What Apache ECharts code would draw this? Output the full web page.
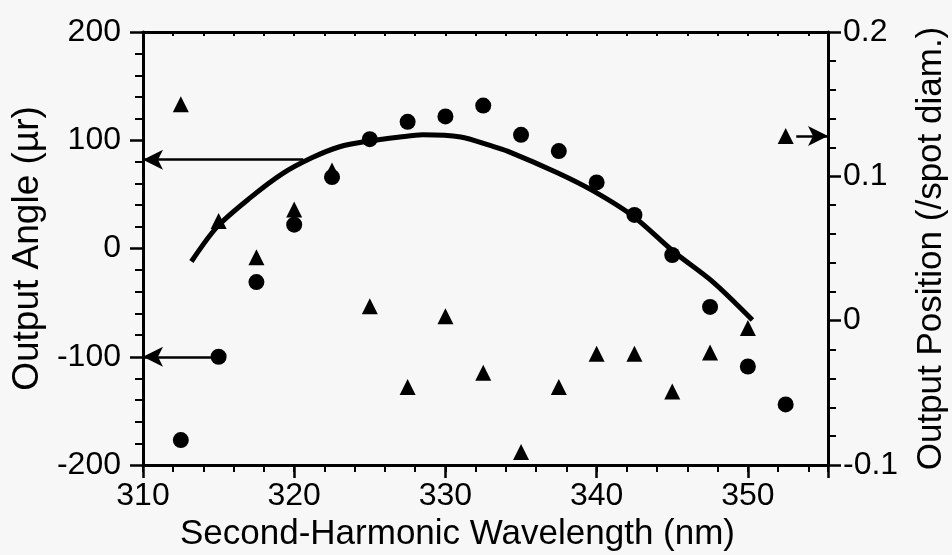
<!DOCTYPE html>
<html>
<head>
<meta charset="utf-8">
<script src="https://cdn.jsdelivr.net/npm/echarts@6/dist/echarts.min.js"></script>
<style>
  html, body { margin: 0; padding: 0; background: #f7f7f7; }
  #chart { width: 952px; height: 555px; }
</style>
</head>
<body>
<div id="chart"></div>
<script>
// wavelength (nm) of each measurement
const wavelength = [312.5, 315, 317.5, 320, 322.5, 325, 327.5, 330, 332.5, 335, 337.5, 340, 342.5, 345, 347.5, 350, 352.5];
// output angle (µr), circles, left axis
const angle = [-177, -100, -31, 22, 66, 101, 117, 122, 132, 105, 90, 61, 31, -6, -54, -109, -144];
// output position (/spot diam.), triangles, right axis
const position = [0.150, 0.069, 0.044, 0.077, 0.104, 0.010, -0.046, 0.003, -0.036, -0.091, -0.046, -0.023, -0.023, -0.049, -0.022, -0.005, 0.128];
// fitted curve for the angle
const fitX = [313.2, 314.9, 317.1, 319.2, 321.2, 323.0, 324.8, 327.0, 328.5, 331.0, 333.0, 334.1, 337.4, 339.8, 342.4, 345.1, 347.7, 350.3];
const fitY = [-12, 20, 47, 69, 84, 94, 99, 103, 105, 103, 95, 90, 70, 53, 30, -3, -31, -66];
// arrows telling which axis goes with which symbol
const angleArrows = [[[320.6, 82], [310, 82]], [[315, -100], [310, -100]]];
const positionArrows = [[[353.2, 0.128], [355.3, 0.128]]];

const xMin = 310, xMax = 355.3;
const font = 'Liberation Sans, Arial, Helvetica, sans-serif';
const black = '#000';

function pairs(xs, ys) {
  return xs.map((x, i) => [x, ys[i]]);
}
function arrows(list) {
  return list.map(a => [{ coord: a[0] }, { coord: a[1] }]);
}

const arrowStyle = {
  silent: true,
  animation: false,
  symbol: ['none', 'arrow'],
  symbolSize: [15, 20],
  label: { show: false },
  lineStyle: { color: black, width: 2.5, type: 'solid' }
};

const chart = echarts.init(document.getElementById('chart'));
chart.setOption({
  backgroundColor: '#f7f7f7',
  animation: false,
  grid: { left: 143, right: 124, top: 32, bottom: 90, outerBoundsMode: 'none', containLabel: false },
  xAxis: [
    {
      type: 'value', min: xMin, max: xMax, interval: 10, position: 'bottom',
      name: 'Second-Harmonic Wavelength (nm)', nameLocation: 'middle', nameGap: 52,
      nameTextStyle: { color: black, fontSize: 35, fontFamily: font, padding: [0, 56, 0, 0] },
      axisLine: { show: true, onZero: false, lineStyle: { color: black, width: 3 } },
      axisTick: { show: true, length: 13, lineStyle: { color: black, width: 2.5 } },
      axisLabel: {
        color: black, fontSize: 32, fontFamily: font, margin: 15,
        formatter: v => Math.abs(v - Math.round(v / 10) * 10) < 1e-6 ? String(Math.round(v)) : ''
      },
      splitLine: { show: false }
    },
    {
      type: 'value', min: xMin, max: xMax, interval: 2, position: 'bottom',
      axisLine: { show: false, onZero: false },
      axisTick: { show: true, length: 7, lineStyle: { color: black, width: 2 } },
      axisLabel: { show: false },
      splitLine: { show: false }
    },
    {
      type: 'value', min: xMin, max: xMax, interval: 2, position: 'top',
      axisLine: { show: true, onZero: false, lineStyle: { color: black, width: 3 } },
      axisTick: { show: true, inside: true, length: 4, lineStyle: { color: black, width: 2 } },
      axisLabel: { show: false },
      splitLine: { show: false }
    }
  ],
  yAxis: [
    {
      type: 'value', min: -200, max: 200, interval: 100, position: 'left',
      name: 'Output Angle (\u00b5r)', nameLocation: 'middle', nameGap: 92,
      nameTextStyle: { color: black, fontSize: 37, fontFamily: font },
      axisLine: { show: true, onZero: false, lineStyle: { color: black, width: 3 } },
      axisTick: { show: true, length: 13, lineStyle: { color: black, width: 2.5 } },
      minorTick: { show: true, splitNumber: 5, length: 8, lineStyle: { color: black, width: 2 } },
      axisLabel: { color: black, fontSize: 32, fontFamily: font, margin: 22 },
      splitLine: { show: false }
    },
    {
      type: 'value', min: -0.1, max: 0.2, interval: 0.1, position: 'right',
      name: 'Output Position (/spot diam.)', nameLocation: 'middle', nameGap: 86,
      nameTextStyle: { color: black, fontSize: 35, fontFamily: font },
      axisLine: { show: true, onZero: false, lineStyle: { color: black, width: 3 } },
      axisTick: { show: true, length: 13, lineStyle: { color: black, width: 2.5 } },
      minorTick: { show: true, splitNumber: 5, length: 8, lineStyle: { color: black, width: 2 } },
      axisLabel: {
        color: black, fontSize: 32, fontFamily: font, margin: 15,
        formatter: v => Math.abs(v) < 1e-9 ? '0' : String(Math.round(v * 10) / 10)
      },
      splitLine: { show: false }
    }
  ],
  series: [
    {
      name: 'fit', type: 'line', xAxisIndex: 0, yAxisIndex: 0,
      data: pairs(fitX, fitY), smooth: 0.3, showSymbol: false, symbol: 'none',
      lineStyle: { color: black, width: 5 }, z: 2
    },
    {
      name: 'angle', type: 'scatter', xAxisIndex: 0, yAxisIndex: 0,
      data: pairs(wavelength, angle), symbol: 'circle', symbolSize: 16,
      itemStyle: { color: black, opacity: 1 }, z: 3,
      markLine: Object.assign({ data: arrows(angleArrows) }, arrowStyle)
    },
    {
      name: 'position', type: 'scatter', xAxisIndex: 0, yAxisIndex: 1,
      data: pairs(wavelength, position), symbol: 'triangle', symbolSize: 16,
      itemStyle: { color: black, opacity: 1 }, z: 3,
      markLine: Object.assign({ data: arrows(positionArrows) }, arrowStyle)
    }
  ]
});
</script>
</body>
</html>
